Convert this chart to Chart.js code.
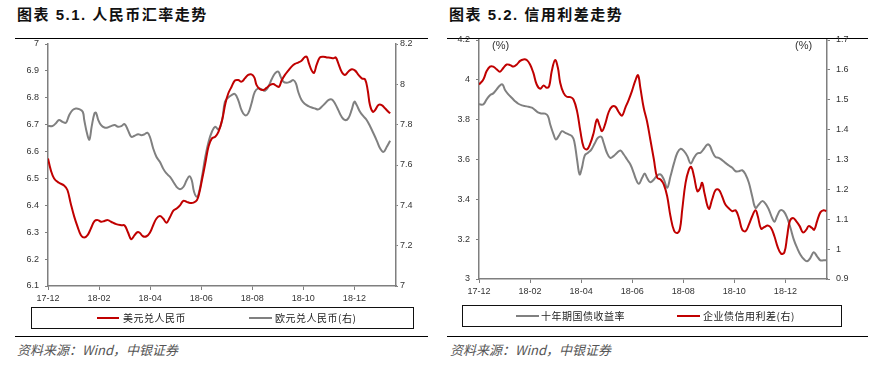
<!DOCTYPE html>
<html>
<head>
<meta charset="utf-8">
<script src="https://cdn.jsdelivr.net/npm/chart.js@4"></script>
<style>
  body { margin: 0; background: #fff; }
  #page { position: relative; width: 889px; height: 366px; overflow: hidden; background: #fff; }
  canvas { position: absolute; }
  .title { position: absolute; top: 7px; font: bold 15px "Liberation Sans", "Noto Sans CJK SC", sans-serif; line-height: 16px; letter-spacing: 1.5px; color: #111; }
  .rule { position: absolute; height: 1.5px; background: #000; }
  .box { position: absolute; border: 1.3px solid #111; box-sizing: border-box; }
  .swatch { position: absolute; height: 2px; }
  .ltext { position: absolute; font: 10px "Noto Sans CJK SC", sans-serif; line-height: 10px; color: #222; letter-spacing: 0.5px; }
  .src { position: absolute; top: 343px; font: italic 13px "Noto Sans CJK SC", sans-serif; line-height: 14px; color: #555; }
  .pct { position: absolute; top: 40px; font: 11px "Liberation Sans", sans-serif; line-height: 11px; color: #333; }
</style>
</head>
<body>
<div id="page">
  <div class="title" style="left:17px">图表 5.1. 人民币汇率走势</div>
  <div class="rule" style="left:15px; width:413px; top:37.5px"></div>
  <div class="title" style="left:449px">图表 5.2. 信用利差走势</div>
  <div class="rule" style="left:447px; width:421px; top:37.5px"></div>

  <canvas id="fx" width="440" height="280" style="left:0; top:30px"></canvas>
  <canvas id="spread" width="449" height="284" style="left:440px; top:26px"></canvas>

  <div class="pct" style="left:492px">(%)</div>
  <div class="pct" style="left:795px">(%)</div>

  <div class="box" style="left:31px; top:307px; width:383px; height:22px"></div>
  <div class="swatch" style="left:97px; top:317px; width:22px; background:#C00000"></div>
  <div class="ltext" style="left:123px; top:313px">美元兑人民币</div>
  <div class="swatch" style="left:249px; top:317px; width:23px; background:#808080"></div>
  <div class="ltext" style="left:275px; top:313px">欧元兑人民币(右)</div>

  <div class="box" style="left:462px; top:305px; width:380px; height:22px; border-width:1.6px"></div>
  <div class="swatch" style="left:516px; top:315px; width:23px; background:#808080"></div>
  <div class="ltext" style="left:541px; top:311px">十年期国债收益率</div>
  <div class="swatch" style="left:677px; top:315px; width:23px; background:#C00000"></div>
  <div class="ltext" style="left:703px; top:311px">企业债信用利差(右)</div>

  <div class="rule" style="left:15px; width:413px; top:335.5px"></div>
  <div class="rule" style="left:447px; width:421px; top:335.5px"></div>
  <div class="src" style="left:17px">资料来源：Wind，中银证券</div>
  <div class="src" style="left:450px">资料来源：Wind，中银证券</div>
</div>

<script>
// x values are months after the 17-12 tick
const monthTicks = [0, 2, 4, 6, 8, 10, 12];
const monthLabels = ['17-12', '18-02', '18-04', '18-06', '18-08', '18-10', '18-12'];
const lastMonth = 13.63;

// 美元兑人民币 (left axis)
const usdCny = [
    [0, 6.574], [0.11, 6.531], [0.24, 6.50], [0.43, 6.484], [0.63, 6.474], [0.76, 6.457], [0.89, 6.407],
    [1.03, 6.357], [1.16, 6.32], [1.29, 6.289], [1.42, 6.28], [1.55, 6.289], [1.68, 6.314], [1.82, 6.341],
    [1.95, 6.345], [2.08, 6.339], [2.21, 6.342], [2.34, 6.345], [2.47, 6.339], [2.67, 6.33], [2.87, 6.326],
    [3.0, 6.325], [3.13, 6.30], [3.26, 6.274], [3.39, 6.289], [3.5, 6.30], [3.59, 6.298], [3.72, 6.285],
    [3.86, 6.285], [3.99, 6.298], [4.12, 6.326], [4.25, 6.351], [4.38, 6.36], [4.51, 6.351], [4.64, 6.335],
    [4.78, 6.357], [4.91, 6.38], [5.04, 6.388], [5.17, 6.40], [5.30, 6.417], [5.43, 6.413], [5.57, 6.409],
    [5.70, 6.41], [5.83, 6.419], [5.92, 6.444], [6.03, 6.494], [6.16, 6.556], [6.29, 6.62], [6.42, 6.649],
    [6.55, 6.655], [6.68, 6.674], [6.82, 6.717], [6.95, 6.78], [7.06, 6.816], [7.19, 6.841], [7.32, 6.864],
    [7.45, 6.866], [7.58, 6.86], [7.71, 6.872], [7.84, 6.885], [7.97, 6.887], [8.08, 6.876], [8.17, 6.847],
    [8.30, 6.832], [8.43, 6.829], [8.56, 6.837], [8.69, 6.847], [8.82, 6.851], [8.95, 6.844], [9.05, 6.841],
    [9.15, 6.864], [9.28, 6.885], [9.41, 6.901], [9.54, 6.916], [9.67, 6.926], [9.80, 6.931], [9.93, 6.938],
    [10.04, 6.95], [10.13, 6.953], [10.22, 6.928], [10.33, 6.901], [10.42, 6.893], [10.52, 6.922], [10.65, 6.95],
    [10.78, 6.953], [10.92, 6.95], [11.05, 6.949], [11.18, 6.947], [11.27, 6.95], [11.37, 6.928], [11.50, 6.897],
    [11.63, 6.885], [11.76, 6.897], [11.90, 6.906], [12.03, 6.901], [12.16, 6.885], [12.29, 6.872], [12.42, 6.868],
    [12.52, 6.829], [12.61, 6.773], [12.72, 6.748], [12.81, 6.754], [12.94, 6.773], [13.07, 6.773], [13.20, 6.761],
    [13.33, 6.748], [13.40, 6.742]
];

// 欧元兑人民币 (right axis)
const eurCny = [
    [0, 7.794], [0.17, 7.793], [0.30, 7.806], [0.43, 7.823], [0.57, 7.814], [0.70, 7.809], [0.83, 7.847],
    [0.96, 7.872], [1.09, 7.880], [1.22, 7.877], [1.36, 7.864], [1.42, 7.823], [1.53, 7.756], [1.62, 7.726],
    [1.71, 7.79], [1.82, 7.856], [1.88, 7.859], [1.97, 7.823], [2.08, 7.798], [2.21, 7.786], [2.34, 7.786],
    [2.47, 7.793], [2.61, 7.798], [2.74, 7.79], [2.87, 7.793], [3.0, 7.803], [3.13, 7.773], [3.26, 7.74],
    [3.39, 7.745], [3.53, 7.753], [3.66, 7.748], [3.79, 7.753], [3.89, 7.76], [3.99, 7.74], [4.12, 7.682],
    [4.25, 7.64], [4.38, 7.616], [4.51, 7.582], [4.64, 7.558], [4.78, 7.541], [4.91, 7.516], [5.04, 7.491],
    [5.17, 7.48], [5.30, 7.491], [5.43, 7.524], [5.54, 7.544], [5.63, 7.524], [5.72, 7.467], [5.83, 7.442],
    [5.92, 7.467], [6.03, 7.541], [6.16, 7.64], [6.29, 7.715], [6.42, 7.765], [6.55, 7.79], [6.68, 7.776],
    [6.82, 7.823], [6.93, 7.914], [7.06, 7.935], [7.19, 7.947], [7.32, 7.952], [7.45, 7.922], [7.58, 7.872],
    [7.71, 7.847], [7.84, 7.856], [7.97, 7.905], [8.10, 7.963], [8.24, 7.98], [8.37, 7.975], [8.50, 7.968],
    [8.63, 7.988], [8.76, 8.025], [8.89, 8.054], [9.02, 8.063], [9.11, 8.038], [9.22, 8.013], [9.35, 8.008],
    [9.48, 8.013], [9.61, 8.021], [9.71, 8.005], [9.80, 7.963], [9.93, 7.922], [10.07, 7.902], [10.20, 7.892],
    [10.33, 7.885], [10.46, 7.88], [10.59, 7.876], [10.72, 7.889], [10.85, 7.905], [10.98, 7.922], [11.11, 7.925],
    [11.24, 7.905], [11.37, 7.872], [11.50, 7.839], [11.63, 7.823], [11.76, 7.831], [11.90, 7.876], [12.0, 7.914],
    [12.09, 7.897], [12.22, 7.864], [12.35, 7.842], [12.48, 7.823], [12.61, 7.793], [12.75, 7.756], [12.88, 7.72],
    [13.01, 7.682], [13.14, 7.665], [13.27, 7.69], [13.40, 7.72]
];

// 十年期国债收益率 (left axis, %)
const bond10y = [
    [0, 3.877], [0.17, 3.877], [0.30, 3.902], [0.43, 3.923], [0.56, 3.932], [0.69, 3.952], [0.82, 3.972],
    [0.92, 3.977], [1.02, 3.949], [1.15, 3.927], [1.28, 3.910], [1.41, 3.893], [1.54, 3.88], [1.68, 3.872],
    [1.81, 3.868], [1.94, 3.865], [2.07, 3.86], [2.20, 3.848], [2.33, 3.835], [2.46, 3.831], [2.59, 3.83],
    [2.70, 3.818], [2.79, 3.776], [2.92, 3.726], [3.01, 3.70], [3.12, 3.717], [3.25, 3.742], [3.38, 3.734],
    [3.51, 3.726], [3.64, 3.717], [3.73, 3.692], [3.84, 3.60], [3.94, 3.525], [4.03, 3.558], [4.14, 3.62],
    [4.27, 3.634], [4.40, 3.650], [4.53, 3.68], [4.66, 3.709], [4.79, 3.714], [4.88, 3.684], [5.01, 3.634],
    [5.14, 3.608], [5.27, 3.617], [5.41, 3.634], [5.54, 3.645], [5.67, 3.625], [5.80, 3.60], [5.93, 3.575],
    [6.06, 3.533], [6.15, 3.50], [6.26, 3.478], [6.39, 3.508], [6.49, 3.530], [6.58, 3.508], [6.71, 3.486],
    [6.85, 3.50], [6.98, 3.52], [7.11, 3.525], [7.24, 3.50], [7.37, 3.458], [7.50, 3.516], [7.64, 3.583],
    [7.77, 3.634], [7.90, 3.654], [8.03, 3.642], [8.16, 3.617], [8.29, 3.58], [8.42, 3.608], [8.55, 3.63],
    [8.68, 3.634], [8.81, 3.654], [8.94, 3.675], [9.04, 3.67], [9.13, 3.642], [9.26, 3.613], [9.39, 3.608],
    [9.52, 3.597], [9.65, 3.583], [9.79, 3.57], [9.92, 3.558], [10.05, 3.541], [10.18, 3.541], [10.31, 3.546],
    [10.44, 3.525], [10.57, 3.483], [10.70, 3.416], [10.83, 3.357], [10.96, 3.374], [11.09, 3.391], [11.22, 3.379],
    [11.35, 3.349], [11.48, 3.307], [11.57, 3.287], [11.67, 3.315], [11.80, 3.345], [11.93, 3.34], [12.07, 3.307],
    [12.20, 3.256], [12.33, 3.198], [12.46, 3.156], [12.59, 3.122], [12.72, 3.10], [12.85, 3.089], [12.98, 3.106],
    [13.11, 3.134], [13.24, 3.114], [13.37, 3.094], [13.50, 3.094], [13.60, 3.094]
];

// 企业债信用利差 (right axis, %)
const creditSpread = [
    [0, 1.551], [0.17, 1.568], [0.30, 1.596], [0.43, 1.611], [0.56, 1.611], [0.69, 1.602], [0.82, 1.594],
    [0.96, 1.607], [1.09, 1.618], [1.22, 1.616], [1.35, 1.611], [1.48, 1.618], [1.61, 1.63], [1.74, 1.635],
    [1.87, 1.633], [2.0, 1.618], [2.13, 1.59], [2.26, 1.551], [2.40, 1.537], [2.53, 1.548], [2.66, 1.54],
    [2.75, 1.546], [2.85, 1.596], [2.98, 1.633], [3.09, 1.607], [3.18, 1.557], [3.31, 1.523], [3.44, 1.51],
    [3.57, 1.509], [3.70, 1.501], [3.84, 1.462], [3.97, 1.395], [4.10, 1.341], [4.23, 1.334], [4.36, 1.354],
    [4.49, 1.389], [4.62, 1.434], [4.73, 1.412], [4.82, 1.395], [4.95, 1.421], [5.08, 1.459], [5.21, 1.477],
    [5.34, 1.477], [5.47, 1.459], [5.60, 1.447], [5.73, 1.473], [5.86, 1.499], [5.99, 1.529], [6.13, 1.566],
    [6.23, 1.582], [6.32, 1.54], [6.45, 1.473], [6.58, 1.428], [6.71, 1.367], [6.85, 1.30], [6.98, 1.239],
    [7.11, 1.233], [7.24, 1.216], [7.37, 1.177], [7.50, 1.11], [7.64, 1.062], [7.77, 1.054], [7.87, 1.068],
    [7.96, 1.132], [8.09, 1.222], [8.22, 1.266], [8.31, 1.275], [8.42, 1.244], [8.55, 1.194], [8.65, 1.202],
    [8.74, 1.222], [8.83, 1.188], [9.0, 1.135], [9.13, 1.166], [9.26, 1.197], [9.39, 1.199], [9.52, 1.177],
    [9.65, 1.149], [9.79, 1.136], [9.92, 1.127], [10.05, 1.13], [10.18, 1.104], [10.31, 1.065], [10.44, 1.06],
    [10.57, 1.082], [10.70, 1.11], [10.83, 1.13], [10.92, 1.11], [11.05, 1.068], [11.18, 1.074], [11.31, 1.079],
    [11.44, 1.071], [11.57, 1.043], [11.70, 1.007], [11.83, 0.985], [11.96, 0.989], [12.07, 1.043], [12.17, 1.093],
    [12.30, 1.104], [12.43, 1.093], [12.56, 1.077], [12.69, 1.056], [12.82, 1.065], [12.91, 1.077], [13.04, 1.071],
    [13.13, 1.065], [13.24, 1.093], [13.37, 1.123], [13.50, 1.13], [13.60, 1.127]
];

const RED = '#C00000';
const GREY = '#808080';
const AXIS = '#7f7f7f';
const tickFont = { family: '"Liberation Sans", Arial, sans-serif', size: 9 };
const fmt = v => String(Math.round(v * 10) / 10);

const line = (data, color, axis) => ({
    data,
    yAxisID: axis,
    borderColor: color,
    borderWidth: 2,
    pointRadius: 0,
    tension: 0.4,
    fill: false
});

const xAxis = (height) => ({
    type: 'linear',
    min: 0,
    max: lastMonth,
    afterBuildTicks: s => { s.ticks = monthTicks.map(v => ({ value: v })); },
    afterFit: s => { s.height = height; },
    ticks: {
        callback: v => monthLabels[monthTicks.indexOf(v)] ?? '',
        font: tickFont, color: '#333', padding: 3, maxRotation: 0, autoSkip: false
    },
    grid: { drawOnChartArea: false, tickLength: 4, color: AXIS },
    border: { color: AXIS, width: 1.5 }
});

const yAxis = (position, min, max, step, width, tickLen, pad) => ({
    position,
    min, max,
    afterFit: s => { s.width = width; },
    ticks: { stepSize: step, callback: fmt, font: tickFont, color: '#333', padding: pad },
    grid: { drawOnChartArea: false, tickLength: tickLen, color: AXIS },
    border: { color: AXIS, width: 1.5 }
});

const baseOptions = (scales) => ({
    responsive: false,
    animation: false,
    devicePixelRatio: 1,
    layout: { padding: { top: 14, left: 0, right: 0, bottom: 0 } },
    plugins: { legend: { display: false }, tooltip: { enabled: false } },
    scales
});

new Chart(document.getElementById('fx'), {
    type: 'line',
    data: {
        datasets: [
            line(usdCny, RED, 'yL'),
            line(eurCny, GREY, 'yR')
        ]
    },
    options: baseOptions({
        x: xAxis(24),
        yL: yAxis('left', 6.1, 7, 0.1, 48, 3, 6),
        yR: yAxis('right', 7, 8.2, 0.2, 44, 2, 2)
    })
});

new Chart(document.getElementById('spread'), {
    type: 'line',
    data: {
        datasets: [
            line(creditSpread, RED, 'yR'),
            line(bond10y, GREY, 'yL')
        ]
    },
    options: baseOptions({
        x: xAxis(31),
        yL: yAxis('left', 3, 4.2, 0.2, 39, 3, 6),
        yR: yAxis('right', 0.9, 1.7, 0.1, 62, 3, 6)
    })
});
</script>
</body>
</html>
